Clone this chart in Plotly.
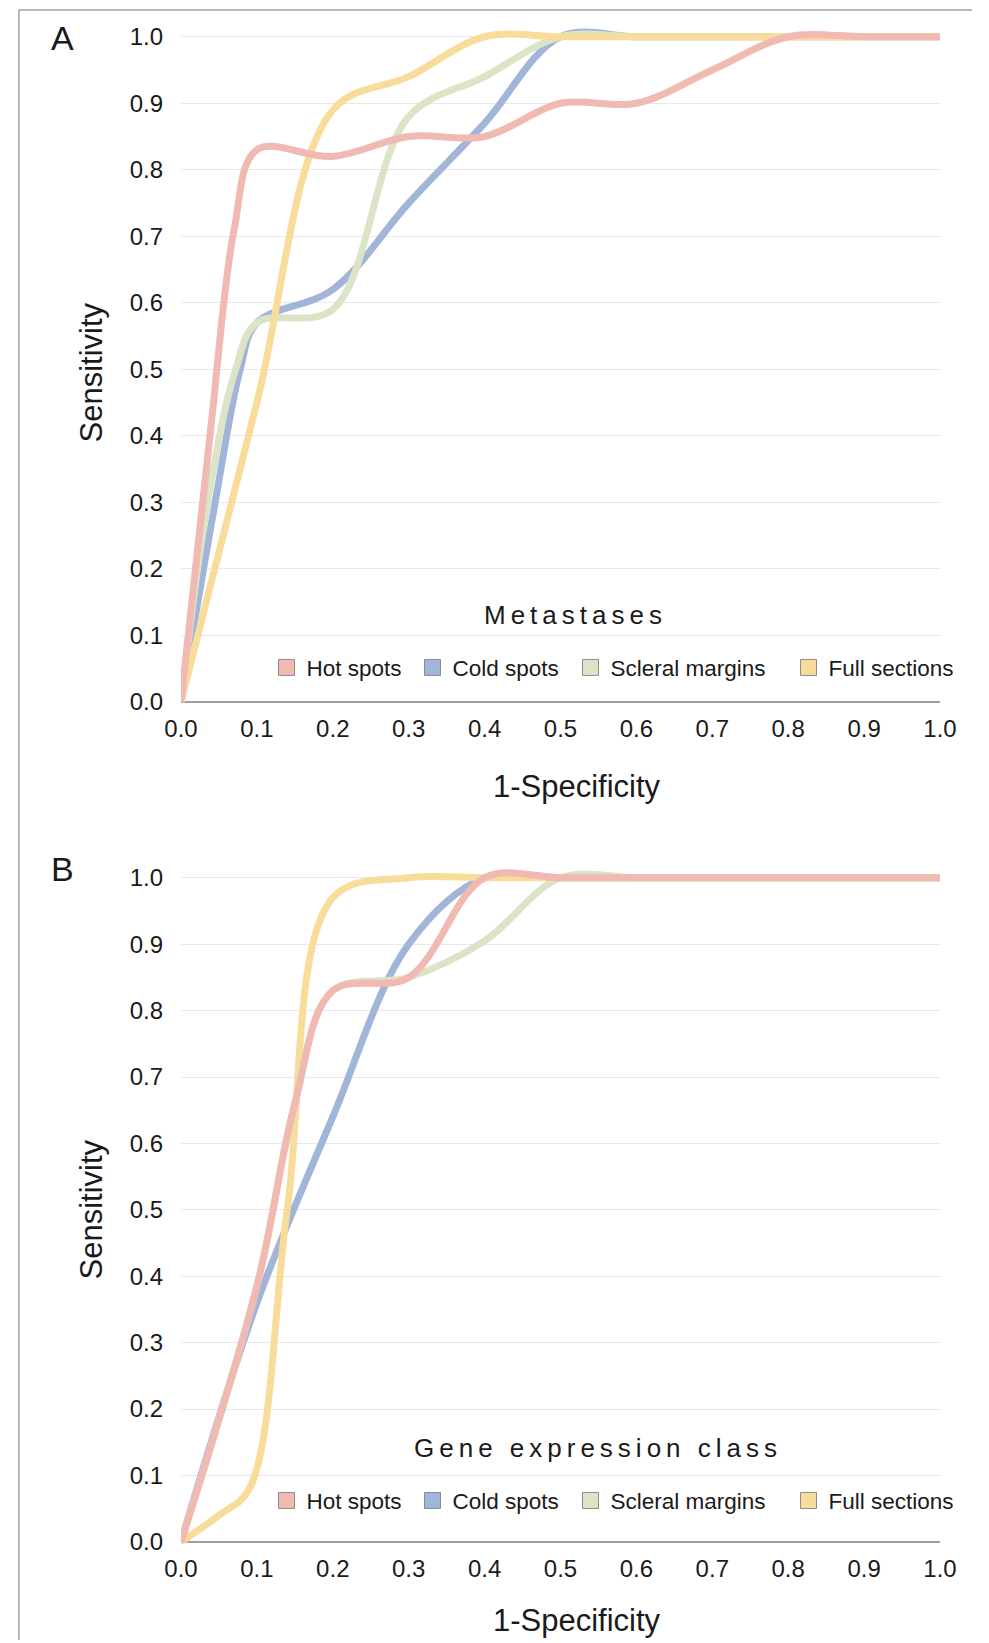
import plotly.graph_objects as go

# ---------------- data ----------------
series_names = ["Hot spots", "Cold spots", "Scleral margins", "Full sections"]
series_colors = ["#f0b9b1", "#a1b5d8", "#dbe4c6", "#f8dc99"]

# Panel A: Metastases
a_hot_x = [0, 0.04, 0.07, 0.1, 0.2, 0.3, 0.4, 0.5, 0.6, 0.7, 0.8, 0.9, 1.0]
a_hot_y = [0, 0.42, 0.71, 0.83, 0.82, 0.85, 0.85, 0.90, 0.90, 0.95, 1.0, 1.0, 1.0]
a_cold_x = [0, 0.045, 0.078, 0.1, 0.2, 0.3, 0.4, 0.5, 0.6, 0.7, 0.8, 0.9, 1.0]
a_cold_y = [0, 0.30, 0.50, 0.57, 0.62, 0.75, 0.87, 1.0, 1.0, 1.0, 1.0, 1.0, 1.0]
a_scleral_x = [0, 0.035, 0.072, 0.1, 0.2, 0.3, 0.4, 0.5, 0.6, 0.7, 0.8, 0.9, 1.0]
a_scleral_y = [0, 0.30, 0.50, 0.57, 0.59, 0.88, 0.94, 1.0, 1.0, 1.0, 1.0, 1.0, 1.0]
a_full_x = [0, 0.1, 0.2, 0.3, 0.4, 0.5, 0.6, 0.7, 0.8, 0.9, 1.0]
a_full_y = [0, 0.45, 0.89, 0.94, 1.0, 1.0, 1.0, 1.0, 1.0, 1.0, 1.0]

# Panel B: Gene expression class
b_hot_x = [0, 0.1, 0.15, 0.2, 0.3, 0.4, 0.5, 0.6, 0.7, 0.8, 0.9, 1.0]
b_hot_y = [0, 0.385, 0.66, 0.83, 0.85, 1.0, 1.0, 1.0, 1.0, 1.0, 1.0, 1.0]
b_cold_x = [0, 0.1, 0.2, 0.3, 0.4, 0.5, 0.6, 0.7, 0.8, 0.9, 1.0]
b_cold_y = [0, 0.36, 0.64, 0.90, 1.0, 1.0, 1.0, 1.0, 1.0, 1.0, 1.0]
b_scleral_x = [0, 0.1, 0.15, 0.2, 0.3, 0.4, 0.5, 0.6, 0.7, 0.8, 0.9, 1.0]
b_scleral_y = [0, 0.385, 0.66, 0.83, 0.85, 0.905, 1.0, 1.0, 1.0, 1.0, 1.0, 1.0]
b_full_x = [0, 0.05, 0.09, 0.14, 0.2, 0.3, 0.4, 0.5, 0.6, 0.7, 0.8, 0.9, 1.0]
b_full_y = [0, 0.04, 0.08, 0.50, 0.97, 1.0, 1.0, 1.0, 1.0, 1.0, 1.0, 1.0, 1.0]

tick_vals = [0, 0.1, 0.2, 0.3, 0.4, 0.5, 0.6, 0.7, 0.8, 0.9, 1.0]
tick_text = ["0.0", "0.1", "0.2", "0.3", "0.4", "0.5", "0.6", "0.7", "0.8", "0.9", "1.0"]

panel_titles = ["Metastases", "Gene expression class"]
panel_letters = ["A", "B"]
x_title = "1-Specificity"
y_title = "Sensitivity"

# ---------------- layout helpers ----------------
W, H = 989, 1643
# effective drawing area observed in the viewer (calibration)
OX, WX, HY = 17.0, 955.0, 1638.0
FONT = "Liberation Sans, Arial, Helvetica, sans-serif"
TXT = "#1a1a1a"


def px(x):
    return (x - OX) / WX


def py(y):
    return 1 - y / HY


fig = go.Figure()

legend_item_x = [266.5, 412.5, 570.5, 788.5]   # left edge of each legend entry (px)
legend_row_y = [667, 1499]

panels = [
    dict(xa="x", ya="y",
         data=[(a_hot_x, a_hot_y), (a_cold_x, a_cold_y), (a_scleral_x, a_scleral_y), (a_full_x, a_full_y)]),
    dict(xa="x2", ya="y2",
         data=[(b_hot_x, b_hot_y), (b_cold_x, b_cold_y), (b_scleral_x, b_scleral_y), (b_full_x, b_full_y)]),
]

draw_order = [1, 2, 3, 0]  # cold, scleral, full, hot (hot on top)
legend_layouts = {}
leg_n = 0
for k, p in enumerate(panels):
    for i in draw_order:
        xs, ys = p["data"][i]
        fig.add_trace(go.Scatter(
            x=xs, y=ys, mode="lines", name=series_names[i],
            line=dict(color=series_colors[i], width=7, shape="spline", smoothing=1.0),
            xaxis=p["xa"], yaxis=p["ya"], showlegend=False, hoverinfo="skip"))
    for i in range(4):
        leg_n += 1
        leg_name = "legend" if leg_n == 1 else "legend%d" % leg_n
        fig.add_trace(go.Scatter(
            x=[None], y=[None], mode="markers", name=series_names[i],
            marker=dict(symbol="square", size=18, color=series_colors[i],
                        line=dict(color="#8c8c8c", width=1)),
            xaxis=p["xa"], yaxis=p["ya"], legend=leg_name, showlegend=True))
        legend_layouts[leg_name] = dict(
            x=px(legend_item_x[i]), y=py(legend_row_y[k]), orientation="h",
            bgcolor="rgba(0,0,0,0)", xanchor="left", yanchor="middle",
            font=dict(family=FONT, size=22.5, color=TXT), itemclick=False, itemdoubleclick=False)

x_dom = [px(181), px(940)]
y_range = [-0.015, 1.025]


def y_dom(y0_px, y1_px):
    s = (y0_px - y1_px)
    bottom = y0_px - y_range[0] * s
    top = y1_px - (y_range[1] - 1) * s
    return [py(bottom), py(top)]


axis_common_x = dict(range=[0, 1], showgrid=False, zeroline=False, showline=False, ticks="",
                     tickvals=tick_vals, ticktext=tick_text, ticklabelstandoff=0,
                     tickfont=dict(family=FONT, size=24, color=TXT), fixedrange=True)
axis_common_y = dict(range=y_range, showgrid=True, gridcolor="#e8e8e8", gridwidth=1,
                     zeroline=True, zerolinecolor="#9e9e9e", zerolinewidth=1.5,
                     showline=False, ticks="", tickvals=tick_vals, ticktext=tick_text,
                     ticklabelstandoff=17, tickfont=dict(family=FONT, size=24, color=TXT),
                     fixedrange=True)

fig.update_layout(
    width=W, height=H, margin=dict(l=0, r=0, t=0, b=0),
    paper_bgcolor="white", plot_bgcolor="white",
    xaxis=dict(domain=x_dom, anchor="y", **axis_common_x),
    yaxis=dict(domain=y_dom(701, 36.7), anchor="x", **axis_common_y),
    xaxis2=dict(domain=x_dom, anchor="y2", **axis_common_x),
    yaxis2=dict(domain=y_dom(1540, 876.7), anchor="x2", **axis_common_y),
    shapes=[
        dict(type="line", xref="paper", yref="paper", x0=0.002, x1=0.002, y0=0, y1=py(10),
             line=dict(color="#a0a0a0", width=1.5), layer="below"),
        dict(type="line", xref="paper", yref="paper", x0=0.002, x1=1, y0=py(10), y1=py(10),
             line=dict(color="#a0a0a0", width=1.5), layer="below"),
    ],
    **legend_layouts,
)

ann = []
for letter, yc in zip(panel_letters, [37.5, 868]):
    ann.append(dict(text=letter, x=px(62), y=py(yc), xref="paper", yref="paper", showarrow=False,
                    xanchor="center", yanchor="middle", font=dict(family=FONT, size=34, color=TXT)))
for t, xc, yc in zip(panel_titles, [575, 598], [614, 1446]):
    ann.append(dict(text='<span style="letter-spacing:5px">' + t + '</span>', x=px(xc), y=py(yc),
                    xref="paper", yref="paper", showarrow=False, xanchor="center", yanchor="middle",
                    font=dict(family=FONT, size=26, color=TXT)))
for yc in [786, 1619]:
    ann.append(dict(text=x_title, x=px(577), y=py(yc), xref="paper", yref="paper", showarrow=False,
                    xanchor="center", yanchor="middle", font=dict(family=FONT, size=31, color=TXT)))
for yc in [372, 1208]:
    ann.append(dict(text=y_title, x=px(91), y=py(yc), xref="paper", yref="paper", showarrow=False,
                    textangle=-90, xanchor="center", yanchor="middle",
                    font=dict(family=FONT, size=31, color=TXT)))
fig.update_layout(annotations=ann)

fig.write_html("out.html", config={"staticPlot": True, "displayModeBar": False},
               post_script="document.body.style.margin='0px';")
